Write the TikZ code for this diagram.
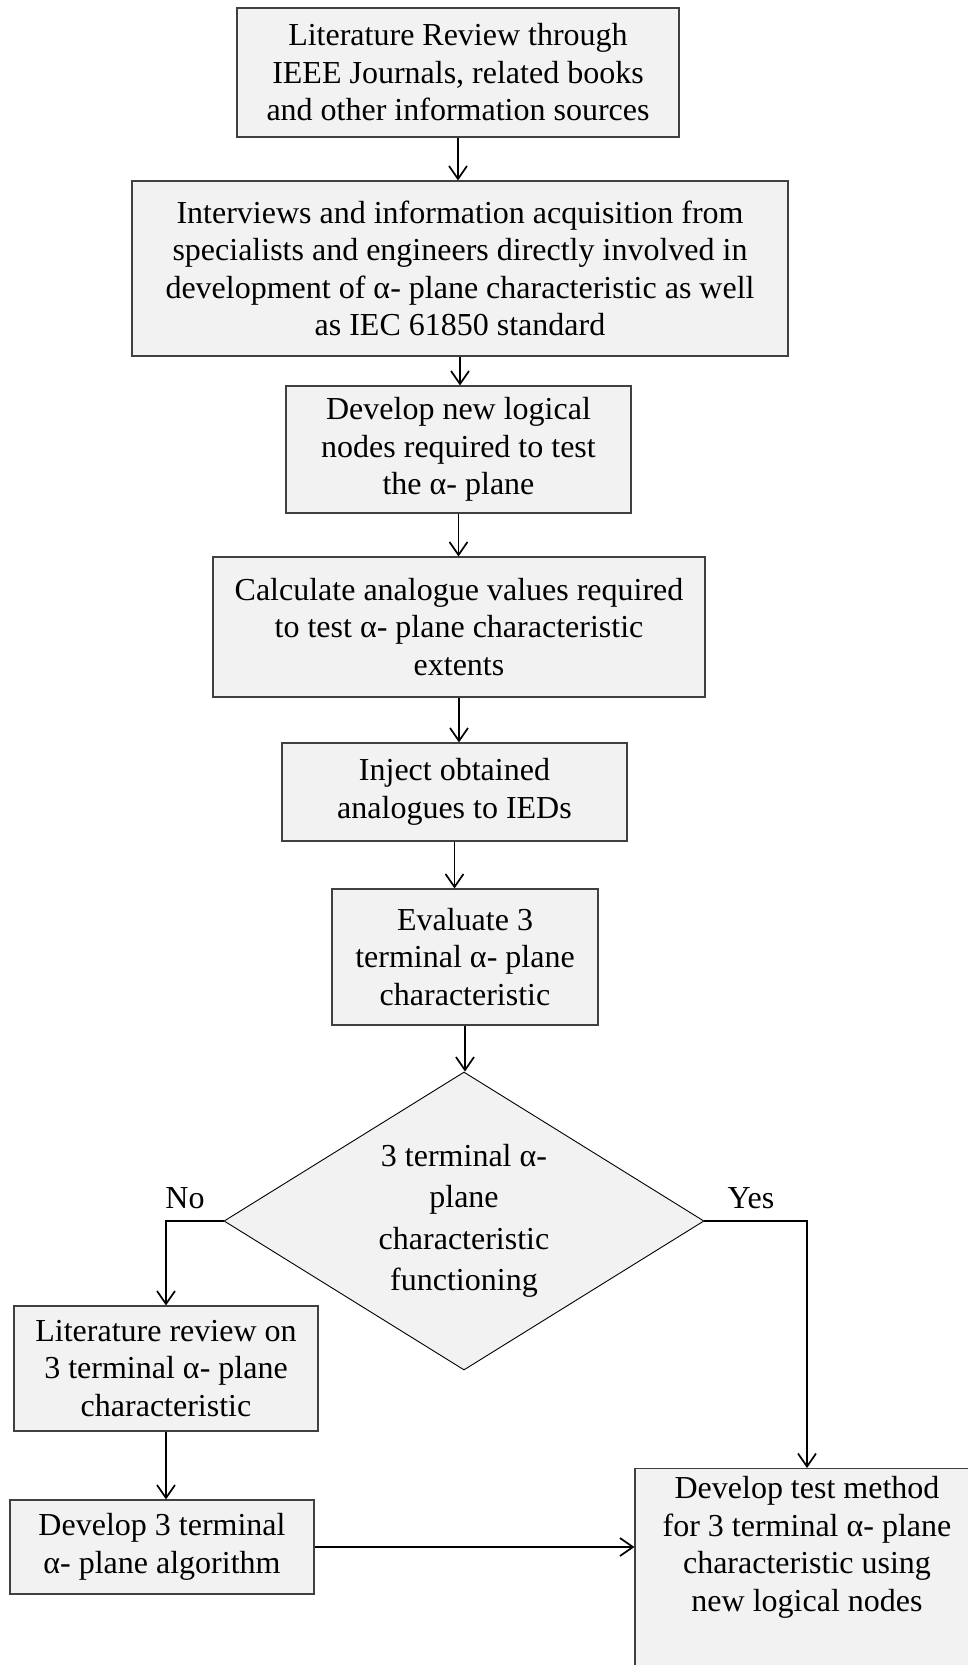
\documentclass[tikz,border=0pt]{standalone}
\usepackage{fontspec}
\setmainfont{Liberation Serif}
\usetikzlibrary{shapes.geometric,arrows.meta}
\definecolor{boxgrey}{HTML}{F2F2F2}
\definecolor{edgegrey}{HTML}{404040}
\begin{document}
\begin{tikzpicture}[x=1pt,y=-1pt,
  txt/.style={font=\fontsize{32}{37.5}\selectfont, align=center, inner sep=0pt},
  box/.style={txt, draw=edgegrey, line width=1.1pt, fill=boxgrey},
  decision/.style={txt, diamond, draw=black, line width=0.9pt, fill=boxgrey,
    shape aspect=1.61, font=\fontsize{32}{41.5}\selectfont},
  arr/.style={line width=1.7pt, -{Straight Barb[length=13pt,width=18pt]}},
]
\useasboundingbox (0,0) rectangle (968,1665);

% process boxes, top to bottom
\node[box, minimum width=442pt, minimum height=129pt] (b1) at (458,72.5)
  {Literature Review through\\IEEE Journals, related books\\and other information sources};
\node[box, minimum width=656pt, minimum height=175pt] (b2) at (460,268.5)
  {Interviews and information acquisition from\\specialists and engineers directly involved in\\development of α- plane characteristic as well\\as IEC 61850 standard};
\node[box, minimum width=345pt, minimum height=127pt] (b3) at (458.5,449.5)
  {Develop new logical\\nodes required to test\\the α- plane};
\node[box, minimum width=492pt, minimum height=140pt] (b4) at (459,627)
  {Calculate analogue values required\\to test α- plane characteristic\\extents};
\node[box, minimum width=345pt, minimum height=98pt] (b5) at (454.5,792)
  {Inject obtained\\analogues to IEDs};
\node[box, minimum width=266pt, minimum height=136pt] (b6) at (465,957)
  {Evaluate 3\\terminal α- plane\\characteristic};

% decision
\node[decision, minimum width=480pt, minimum height=298pt] (d) at (464,1221)
  {3 terminal α-\\plane\\characteristic\\functioning};

% branches
\node[box, minimum width=304pt, minimum height=125pt] (b7) at (166,1368.5)
  {Literature review on\\3 terminal α- plane\\characteristic};
\node[box, minimum width=304pt, minimum height=94pt] (b8) at (162,1547)
  {Develop 3 terminal\\α- plane algorithm};
\node[box, minimum width=344pt, minimum height=232pt, anchor=north] (b9) at (807,1468) {};
\node[txt] (b9text) at (807,1547.5)
  {Develop test method\\for 3 terminal α- plane\\characteristic using\\new logical nodes};

% branch labels
\node[txt] (no) at (185,1198) {No};
\node[txt] (yes) at (751,1198) {Yes};

% connectors
\draw[arr] (b1.south) -- (b1.south |- b2.north);
\draw[arr] (b2.south) -- (b2.south |- b3.north);
\draw[arr] (b3.south) -- (b3.south |- b4.north);
\draw[arr] (b4.south) -- (b4.south |- b5.north);
\draw[arr] (b5.south) -- (b5.south |- b6.north);
\draw[arr] (b6.south) -- (b6.south |- d.north);
\draw[arr] (d.west) -| (b7.north);
\draw[arr] (b7.south) -- (b7.south |- b8.north);
\draw[arr] (d.east) -| (b9.north);
\draw[arr] (b8.east) -- (b8.east -| b9.west);
\end{tikzpicture}
\end{document}
